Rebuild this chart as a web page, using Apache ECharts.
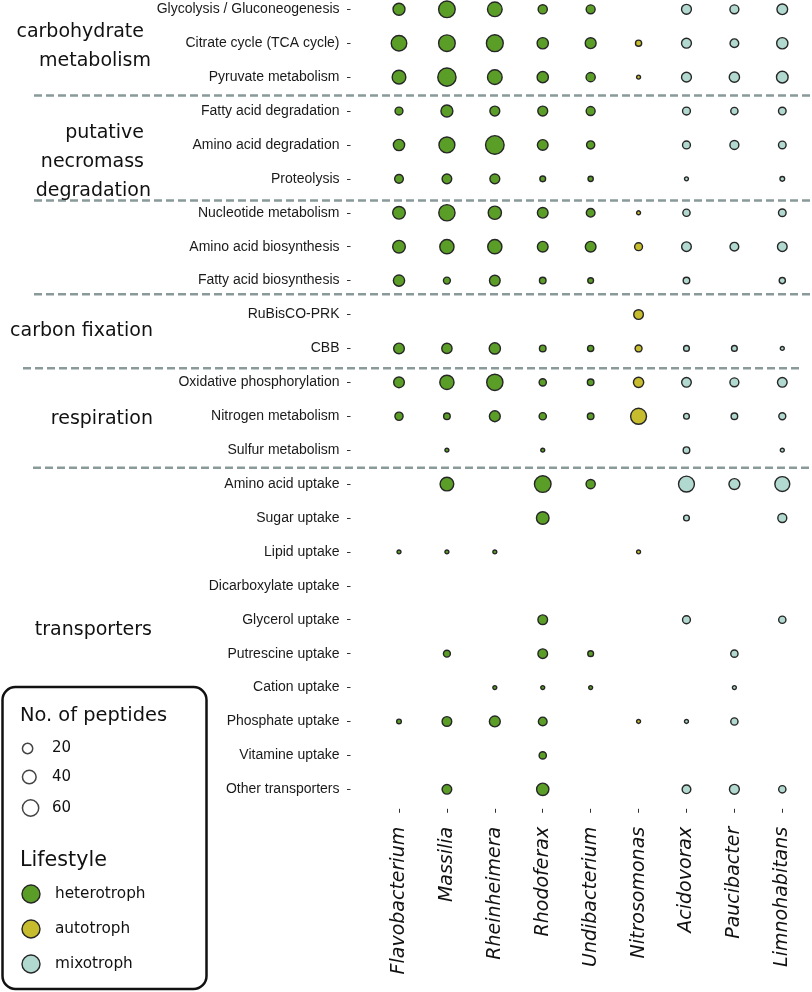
<!DOCTYPE html>
<html>
<head>
<meta charset="utf-8">
<script src="https://cdn.jsdelivr.net/npm/echarts@6/dist/echarts.min.js"></script>
<style>
html,body{margin:0;padding:0;background:#fff;}
#chart{width:812px;height:992px;}
</style>
</head>
<body>
<div id="chart"></div>
<script>
// ---------- data ----------
const genera = ['Flavobacterium','Massilia','Rheinheimera','Rhodoferax','Undibacterium','Nitrosomonas','Acidovorax','Paucibacter','Limnohabitans'];
const generaLifestyle = ['heterotroph','heterotroph','heterotroph','heterotroph','heterotroph','autotroph','mixotroph','mixotroph','mixotroph'];
const pathways = [
  'Glycolysis / Gluconeogenesis','Citrate cycle (TCA cycle)','Pyruvate metabolism',
  'Fatty acid degradation','Amino acid degradation','Proteolysis',
  'Nucleotide metabolism','Amino acid biosynthesis','Fatty acid biosynthesis',
  'RuBisCO-PRK','CBB',
  'Oxidative phosphorylation','Nitrogen metabolism','Sulfur metabolism',
  'Amino acid uptake','Sugar uptake','Lipid uptake','Dicarboxylate uptake','Glycerol uptake',
  'Putrescine uptake','Cation uptake','Phosphate uptake','Vitamine uptake','Other transporters'
];
// number of peptides; rows = pathways, columns = genera (null = not detected)
const peptides = [
  [29, 63, 47, 15, 14, null, 18, 14, 22],
  [54, 63, 65, 25, 23, 5, 18, 13, 25],
  [40, 78, 47, 25, 15, 1, 18, 20, 27],
  [10, 29, 18, 18, 14, null, 10, 8, 9],
  [25, 57, 81, 22, 11, null, 10, 14, 9],
  [13, 17, 18, 4, 3, null, 1, null, 2],
  [33, 60, 37, 22, 13, 1, 8, null, 9],
  [33, 44, 44, 22, 22, 10, 17, 13, 17],
  [25, 7, 22, 6, 4, null, 6, null, 5],
  [null, null, null, null, null, 17, null, null, null],
  [22, 20, 25, 6, 5, 7, 4, 4, 1],
  [22, 44, 60, 8, 6, 20, 17, 14, 17],
  [11, 6, 23, 8, 6, 57, 4, 6, 7],
  [null, 1, null, 1, null, null, 6, null, 1],
  [null, 40, null, 63, 15, null, 57, 23, 49],
  [null, null, null, 33, null, null, 4, null, 14],
  [1, 1, 1, null, null, 1, null, null, null],
  [null, null, null, null, null, null, null, null, null],
  [null, null, null, 17, null, null, 10, null, 8],
  [null, 7, null, 17, 4, null, null, 8, null],
  [null, null, 1, 1, 1, null, null, 1, null],
  [2, 17, 23, 13, null, 1, 1, 8, null],
  [null, null, null, 8, null, null, null, null, null],
  [null, 17, null, 31, null, null, 13, 18, 8]
];
const groupLabels = [['carbohydrate','metabolism'],['putative','necromass','degradation'],['carbon fixation'],['respiration'],['transporters']];
const groupLabelRows = [1.10, 4.50, 9.49, 12.07, 18.31];
const separatorRows = [2.545, 5.64, 8.405, 10.587, 13.515];
const lifestyles = ['heterotroph','autotroph','mixotroph'];
const sizeLegendValues = [20, 40, 60];

// ---------- styles ----------
const lifestyleColors = {heterotroph:'#5b9e27', autotroph:'#c6bc2d', mixotroph:'#b2d9cf'};
const strokeColor = '#262626';
const groupLineRight = [[144,151],[144,144,151],[153],[153],[152]];
function symSize(n){ return 2.1 + 1.83*Math.sqrt(n); }

const chart = echarts.init(document.getElementById('chart'), null, {renderer:'canvas'});

const series = lifestyles.map(ls => {
  const data = [];
  peptides.forEach((row, r) => row.forEach((v, c) => {
    if (v != null && generaLifestyle[c] === ls) data.push([c, r, v]);
  }));
  return {
    type:'scatter', name: ls, data, clip:false,
    symbol:'circle',
    symbolSize: val => symSize(val[2]),
    itemStyle:{color: lifestyleColors[ls], borderColor: strokeColor, borderWidth:1.4, opacity:1},
    emphasis:{disabled:true},
    z: 3
  };
});

const option = {
  animation:false,
  backgroundColor:'#fff',
  grid:{left:399, right:29.7, top:9.3, bottom:202.7, containLabel:false},
  xAxis:{
    type:'value', min:0, max:8, interval:1, offset:19.5, position:'bottom',
    axisLine:{show:false, onZero:false}, splitLine:{show:false},
    axisTick:{show:true, length:4, lineStyle:{color:'#333', width:1}},
    axisLabel:{rotate:90, margin:18, fontFamily:'DejaVu Sans', fontStyle:'italic', fontSize:19, color:'#111',
      formatter: v => genera[v] || ''}
  },
  yAxis:{
    type:'value', min:0, max:23, interval:1, inverse:true, offset:48.5, position:'left',
    axisLine:{show:false, onZero:false}, splitLine:{show:false},
    axisTick:{show:true, length:3.5, lineStyle:{color:'#333', width:1}},
    axisLabel:{margin:11, fontFamily:'Liberation Sans, Arial, sans-serif', fontSize:14, color:'#1a1a1a',
      formatter: v => pathways[v] || ''}
  },
  series
};
chart.setOption(option);

// ---------- annotations & legend ----------
const g = [];
const sepStarts = [34, 34, 34, 23, 33];
const sepEnds = [812, 812, 812, 802, 812];
separatorRows.forEach((r, i) => {
  const y = chart.convertToPixel({yAxisIndex:0}, r);
  g.push({type:'line', shape:{x1:sepStarts[i], y1:y, x2:sepEnds[i], y2:y},
    style:{stroke:'#8a9999', lineWidth:2.5, lineDash:[8,4]}, z:1});
});
groupLabels.forEach((lines, i) => {
  const yc = chart.convertToPixel({yAxisIndex:0}, groupLabelRows[i]);
  const lh = 29;
  lines.forEach((t, j) => {
    const y = yc + (j - (lines.length - 1) / 2) * lh;
    g.push({type:'text', x:groupLineRight[i][j], y:y, style:{text:t, fontFamily:'DejaVu Sans', fontSize:19, fill:'#111',
      align:'right', verticalAlign:'middle'}, z:2});
  });
});
// legend box
g.push({type:'rect', shape:{x:2.5, y:687, width:204, height:302, r:13},
  style:{fill:'#fff', stroke:'#111', lineWidth:2.5}, z:5});
g.push({type:'text', x:20, y:716, style:{text:'No. of peptides', fontFamily:'DejaVu Sans', fontSize:19.4, fill:'#111', verticalAlign:'middle'}, z:6});
const sizeY = [748.5, 777, 808];
sizeLegendValues.forEach((v, i) => {
  const d = symSize(v);
  g.push({type:'circle', shape:{cx:21.7 + (d+1.5)/2, cy:sizeY[i], r:d/2},
    style:{fill:'#fff', stroke:'#444', lineWidth:1.5}, z:6});
  g.push({type:'text', x:52, y:sizeY[i], style:{text:String(v), fontFamily:'DejaVu Sans', fontSize:15, fill:'#111', verticalAlign:'middle'}, z:6});
});
g.push({type:'text', x:20, y:860.5, style:{text:'Lifestyle', fontFamily:'DejaVu Sans', fontSize:20.7, fill:'#111', verticalAlign:'middle'}, z:6});
const lsY = [894, 929, 964];
lifestyles.forEach((ls, i) => {
  g.push({type:'circle', shape:{cx:31, cy:lsY[i], r:9}, style:{fill:lifestyleColors[ls], stroke:strokeColor, lineWidth:1.4}, z:6});
  g.push({type:'text', x:55, y:lsY[i], style:{text:ls, fontFamily:'DejaVu Sans', fontSize:15.3, fill:'#111', verticalAlign:'middle'}, z:6});
});
chart.setOption({graphic:{elements:g}});
</script>
</body>
</html>
